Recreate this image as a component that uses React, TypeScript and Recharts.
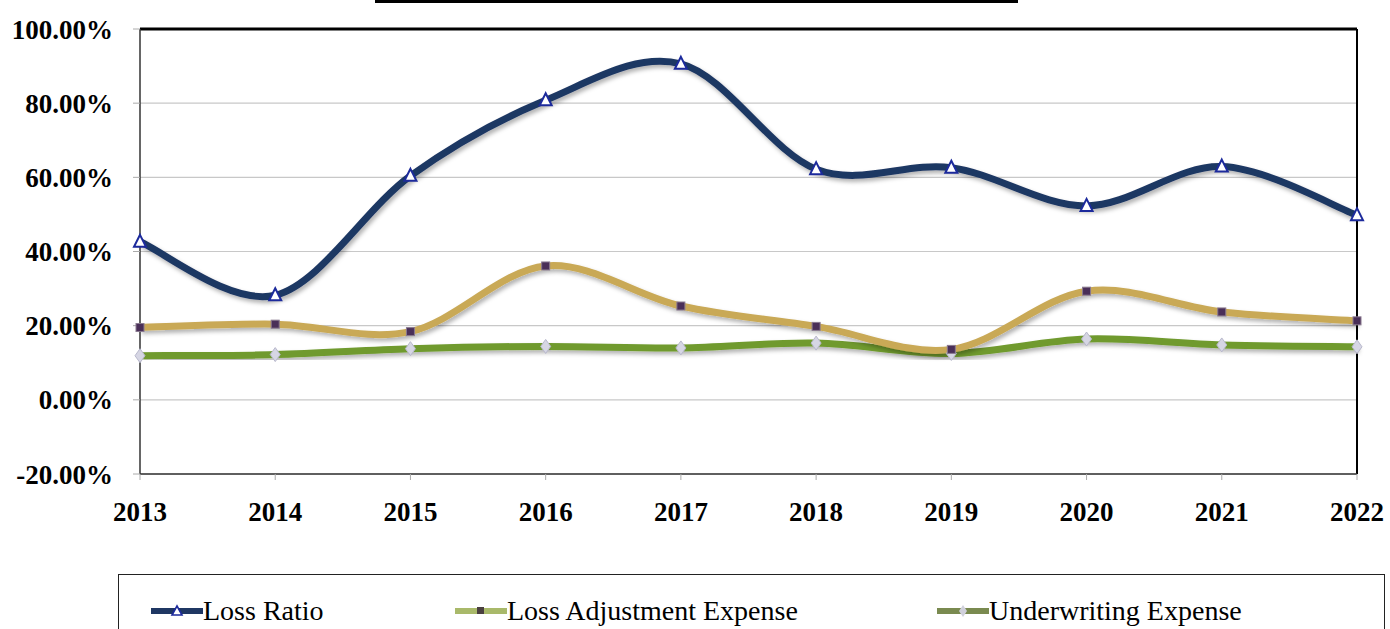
import React from 'react';
import {
  LineChart,
  Line,
  XAxis,
  YAxis,
  CartesianGrid,
  ReferenceLine,
} from 'recharts';

const years = ['2013', '2014', '2015', '2016', '2017', '2018', '2019', '2020', '2021', '2022'];
const lossRatio = [42.6, 28.2, 60.4, 80.8, 90.6, 62.2, 62.6, 52.3, 62.9, 49.8];
const lossAdjustment = [19.5, 20.4, 18.4, 36.1, 25.3, 19.8, 13.6, 29.3, 23.7, 21.3];
const underwriting = [11.9, 12.2, 13.8, 14.4, 14.0, 15.3, 12.5, 16.4, 14.8, 14.3];
const yTicks = [-20, 0, 20, 40, 60, 80, 100];

const data = years.map((year, i) => ({
  year,
  lossRatio: lossRatio[i],
  lossAdjustment: lossAdjustment[i],
  underwriting: underwriting[i],
}));

const NAVY = '#1f3763';
const GOLD = '#c9a957';
const GREEN = '#6f9a2f';
const SERIF = "'Liberation Serif', 'Times New Roman', Times, Tinos, 'DejaVu Serif', serif";

// excel-like smoothed line (catmull-rom style bezier)
const excelCurve = (context: any) => {
  let pts: number[][] = [];
  return {
    areaStart() {},
    areaEnd() {},
    lineStart() {
      pts = [];
    },
    point(x: number, y: number) {
      pts.push([+x, +y]);
    },
    lineEnd() {
      const n = pts.length;
      if (!n) return;
      context.moveTo(pts[0][0], pts[0][1]);
      for (let i = 0; i < n - 1; i++) {
        const p0 = pts[i - 1] || pts[i];
        const p1 = pts[i];
        const p2 = pts[i + 1];
        const p3 = pts[i + 2] || p2;
        context.bezierCurveTo(
          p1[0] + (p2[0] - p0[0]) / 6,
          p1[1] + (p2[1] - p0[1]) / 6,
          p2[0] - (p3[0] - p1[0]) / 6,
          p2[1] - (p3[1] - p1[1]) / 6,
          p2[0],
          p2[1]
        );
      }
    },
  };
};

const TriangleDot = (props: any) => {
  const { cx, cy, index } = props;
  return (
    <path
      key={`tri-${index}`}
      d={`M${cx},${cy - 7} L${cx + 6},${cy + 5} L${cx - 6},${cy + 5} Z`}
      fill="#ffffff"
      stroke="#1c2a9c"
      strokeWidth={2}
    />
  );
};

const SquareDot = (props: any) => {
  const { cx, cy, index } = props;
  return (
    <rect
      key={`sq-${index}`}
      x={cx - 4}
      y={cy - 4}
      width={8}
      height={8}
      fill="#4a2f58"
      stroke="#8a7a90"
      strokeWidth={1}
    />
  );
};

const DiamondDot = (props: any) => {
  const { cx, cy, index } = props;
  return (
    <path
      key={`dm-${index}`}
      d={`M${cx},${cy - 7} L${cx + 5},${cy} L${cx},${cy + 7} L${cx - 5},${cy} Z`}
      fill="#d6d6e4"
      stroke="#b8b8cc"
      strokeWidth={1}
    />
  );
};

const tickStyle = {
  fill: '#000',
  fontSize: 27,
  fontWeight: 700,
  fontFamily: SERIF,
};

const legendItems = [
  { label: 'Loss Ratio', line: NAVY, marker: 'tri', left: 150 },
  { label: 'Loss Adjustment Expense', line: '#a9b96a', marker: 'sq', left: 454 },
  { label: 'Underwriting Expense', line: '#7a8a50', marker: 'dm', left: 936 },
];

const LegendMarker = ({ marker }: { marker: string }) => {
  if (marker === 'tri') {
    return <path d="M26,5 L31,14 L21,14 Z" fill="#fff" stroke="#1c2a9c" strokeWidth={1.6} />;
  }
  if (marker === 'sq') {
    return <rect x={22} y={6} width={7} height={7} fill="#4a3f40" />;
  }
  return <path d="M26,4 L30,10 L26,16 L22,10 Z" fill="#d0d0dc" />;
};

export default function App() {
  return (
    <div
      style={{
        position: 'absolute',
        left: 0,
        top: 0,
        width: 1390,
        height: 629,
        background: '#fff',
        overflow: 'hidden',
        fontFamily: SERIF,
      }}
    >
      <div
        style={{
          position: 'absolute',
          left: 375,
          top: 0,
          width: 643,
          height: 3,
          background: '#000',
        }}
      />
      <LineChart
        width={1390}
        height={629}
        data={data}
        margin={{ top: 29, right: 33, left: 0, bottom: 115 }}
      >
        <defs>
          <filter id="lineShadow" x="-5%" y="-20%" width="110%" height="140%">
            <feDropShadow dx="2" dy="3" stdDeviation="2" floodColor="#000" floodOpacity="0.3" />
          </filter>
        </defs>
        <CartesianGrid vertical={false} stroke="#c8c8c8" strokeWidth={1.2} />
        <XAxis
          dataKey="year"
          tick={tickStyle}
          tickSize={6}
          tickMargin={22}
          height={40}
          axisLine={{ stroke: '#333', strokeWidth: 1.5 }}
          tickLine={{ stroke: '#aaa' }}
        />
        <YAxis
          domain={[-20, 100]}
          ticks={yTicks}
          tickFormatter={(v: number) => `${v.toFixed(2)}%`}
          tick={tickStyle}
          width={140}
          tickSize={7}
          tickMargin={20}
          axisLine={{ stroke: '#333', strokeWidth: 1.5 }}
          tickLine={{ stroke: '#aaa' }}
        />
        <ReferenceLine y={100} stroke="#000" strokeWidth={3} />
        <ReferenceLine x="2022" stroke="#000" strokeWidth={2} />
        <Line
          dataKey="underwriting"
          type={excelCurve as any}
          stroke={GREEN}
          strokeWidth={7}
          filter="url(#lineShadow)"
          dot={DiamondDot}
          activeDot={false}
          isAnimationActive={false}
        />
        <Line
          dataKey="lossAdjustment"
          type={excelCurve as any}
          stroke={GOLD}
          strokeWidth={7}
          filter="url(#lineShadow)"
          dot={SquareDot}
          activeDot={false}
          isAnimationActive={false}
        />
        <Line
          dataKey="lossRatio"
          type={excelCurve as any}
          stroke={NAVY}
          strokeWidth={7}
          filter="url(#lineShadow)"
          dot={TriangleDot}
          activeDot={false}
          isAnimationActive={false}
        />
      </LineChart>
      <div
        style={{
          position: 'absolute',
          left: 118,
          top: 574,
          width: 1267,
          height: 80,
          border: '1.5px solid #222',
          boxSizing: 'border-box',
        }}
      >
        {legendItems.map((item) => (
          <div
            key={item.label}
            style={{
              position: 'absolute',
              left: item.left - 118,
              top: 20,
              display: 'flex',
              alignItems: 'center',
              whiteSpace: 'nowrap',
            }}
          >
            <svg width={52} height={20} style={{ display: 'block' }}>
              <line x1={1} y1={10} x2={51} y2={10} stroke={item.line} strokeWidth={6} strokeLinecap="round" />
              <LegendMarker marker={item.marker} />
            </svg>
            <span style={{ fontSize: 28, color: '#000', lineHeight: '32px' }}>{item.label}</span>
          </div>
        ))}
      </div>
    </div>
  );
}
